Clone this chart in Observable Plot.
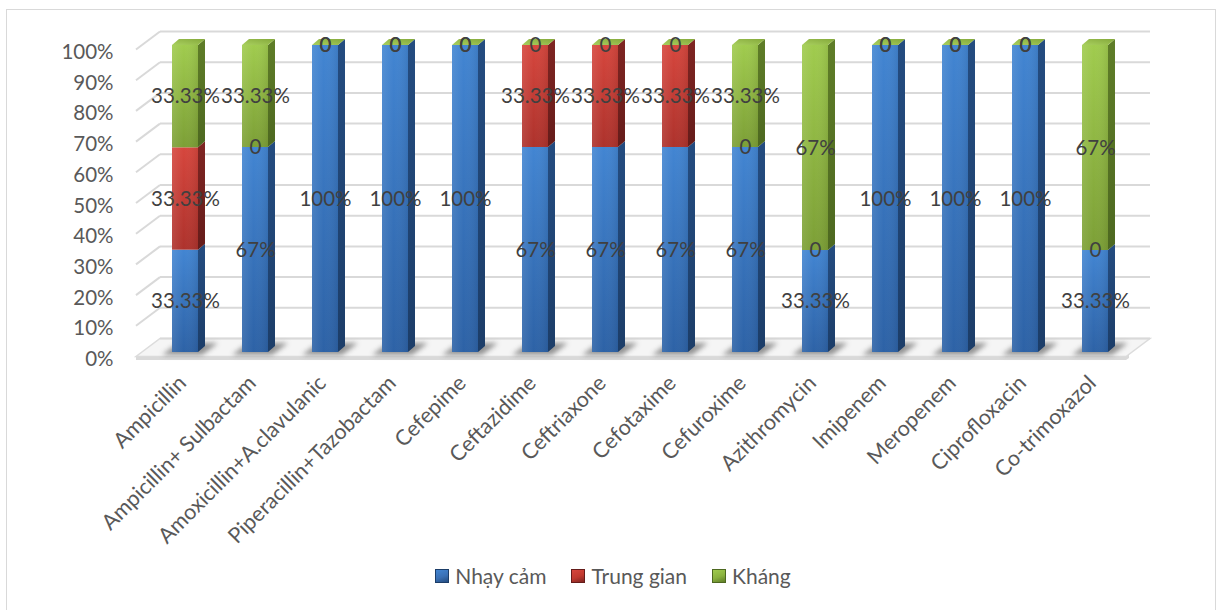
<!DOCTYPE html>
<html>
<head>
<meta charset="utf-8">
<script src="https://cdn.jsdelivr.net/npm/d3@7"></script>
<script src="https://cdn.jsdelivr.net/npm/@observablehq/plot@0.6"></script>
<style>
  html, body { margin: 0; padding: 0; background: #fff; }
  body { width: 1218px; height: 610px; overflow: hidden; position: relative; font-family: Lato, "Open Sans", sans-serif; }
  #frame { position: absolute; left: 6px; top: 9px; width: 1210px; height: 620px; border: 1px solid #d9d9d9; box-sizing: border-box; }
  #chart { position: absolute; left: 0; top: 0; }
  #legend { position: absolute; left: 10px; width: 1206px; top: 563px; display: flex; justify-content: center; gap: 25px; font-size: 21px; color: #595959; }
  .item { display: flex; align-items: center; gap: 6px; line-height: 26px; }
  .sw { width: 14px; height: 14px; box-sizing: border-box; }
</style>
</head>
<body>
<div id="frame"></div>
<div id="chart"></div>
<div id="legend"></div>
<script>
// Antibiotic susceptibility, share of isolates per drug
const drugs = [
  "Ampicillin", "Ampicillin+ Sulbactam", "Amoxicillin+A.clavulanic", "Piperacillin+Tazobactam",
  "Cefepime", "Ceftazidime", "Ceftriaxone", "Cefotaxime", "Cefuroxime", "Azithromycin",
  "Imipenem", "Meropenem", "Ciprofloxacin", "Co-trimoxazol"
];
const seriesNames = ["Nhạy cảm", "Trung gian", "Kháng"];
const nhayCam   = [33.33, 67, 100, 100, 100, 67, 67, 67, 67, 33.33, 100, 100, 100, 33.33];
const trungGian = [33.33, 0, 0, 0, 0, 33.33, 33.33, 33.33, 0, 0, 0, 0, 0, 0];
const khang     = [33.33, 33.33, 0, 0, 0, 0, 0, 0, 33.33, 67, 0, 0, 0, 67];
const yTicks = [0, 0.1, 0.2, 0.3, 0.4, 0.5, 0.6, 0.7, 0.8, 0.9, 1];

const seriesValues = [nhayCam, trungGian, khang];
const rows = drugs.flatMap((drug, i) =>
  seriesNames.map((series, j) => ({drug, series, value: seriesValues[j][i]}))
);
const fmtLabel = v => v === 0 ? "0" : `${v}%`;

// palette: front face (top/bottom of gradient), side face, legend
const palette = {
  "Nhạy cảm":   {top: "#4285d2", bottom: "#2d62a6", side: "#244c80", sideDark: "#1c3d68", key: "#3a70b5"},
  "Trung gian": {top: "#d6463d", bottom: "#ad322c", side: "#7f2522", sideDark: "#651c1a", key: "#c0392f"},
  "Kháng":      {top: "#a0cb4e", bottom: "#7c9f36", side: "#5f7d28", sideDark: "#4d6820", key: "#8ab23e"}
};
const gradId = s => "g" + seriesNames.indexOf(s);

// normalized stack, reused by the 3-D faces drawn next to the bars
const stacks = drugs.map((drug, i) => {
  const total = d3.sum(seriesValues, a => a[i]);
  let acc = 0;
  return seriesValues.map((a, j) => {
    const lo = acc / total; acc += a[i];
    return {drug, series: seriesNames[j], lo, hi: acc / total};
  });
});

const svgNS = "http://www.w3.org/2000/svg";
function el(name, attrs) {
  const e = document.createElementNS(svgNS, name);
  for (const k in attrs) e.setAttribute(k, attrs[k]);
  return e;
}
function bandwidthOf(x) {
  if (typeof x.bandwidth === "function") return x.bandwidth();
  if (typeof x.bandwidth === "number") return x.bandwidth;
  return (x(drugs[1]) - x(drugs[0])) * 0.37;
}
const pts = a => a.map(p => p.join(",")).join(" ");

// depth of the 3-D box: front edge and back wall offsets from the bar plane
const FRONT = [-9, 4.5], BACK = [15, -13.5], SIDE = [7, -6];

// gradients, floor, walls and floor shadows
function backdrop(index, scales, values, dims) {
  const g = el("g", {});
  const defs = el("defs", {});
  for (const s of seriesNames) {
    const p = palette[s];
    const lg = el("linearGradient", {id: gradId(s), x1: 0, y1: 0, x2: 0, y2: 1});
    lg.append(el("stop", {offset: "0", "stop-color": p.top}));
    lg.append(el("stop", {offset: "1", "stop-color": p.bottom}));
    defs.append(lg);
    const lh = el("linearGradient", {id: gradId(s) + "h", x1: 0, y1: 0, x2: 1, y2: 0});
    lh.append(el("stop", {offset: "0", "stop-color": "#fff", "stop-opacity": 0.10}));
    lh.append(el("stop", {offset: "0.45", "stop-color": "#fff", "stop-opacity": 0.0}));
    lh.append(el("stop", {offset: "1", "stop-color": "#000", "stop-opacity": 0.08}));
    defs.append(lh);
    const ls = el("linearGradient", {id: gradId(s) + "s", x1: 0, y1: 0, x2: 0, y2: 1});
    ls.append(el("stop", {offset: "0", "stop-color": p.side}));
    ls.append(el("stop", {offset: "1", "stop-color": p.sideDark}));
    defs.append(ls);
  }
  const tg = el("linearGradient", {id: "gtop", x1: 0, y1: 1, x2: 1, y2: 0});
  tg.append(el("stop", {offset: "0", "stop-color": "#a9d05f"}));
  tg.append(el("stop", {offset: "1", "stop-color": "#84a83a"}));
  defs.append(tg);
  const blur = el("filter", {id: "shadowBlur", x: "-50%", y: "-50%", width: "200%", height: "200%"});
  blur.append(el("feGaussianBlur", {stdDeviation: 2.5}));
  defs.append(blur);
  g.append(defs);

  const {x, y} = scales;
  const x1 = dims.marginLeft, x2 = dims.width - dims.marginRight, y0 = y(0);
  // floor slab
  g.append(el("polygon", {
    points: pts([[x1 + FRONT[0], y0 + FRONT[1]], [x2 + FRONT[0], y0 + FRONT[1]], [x2 + BACK[0], y0 + BACK[1]], [x1 + BACK[0], y0 + BACK[1]]]),
    fill: "#f5f5f5", stroke: "#dcdcdc", "stroke-width": 1.5
  }));
  g.append(el("polygon", {
    points: pts([[x1 + FRONT[0], y0 + FRONT[1]], [x2 + FRONT[0], y0 + FRONT[1]], [x2 + FRONT[0] + 3, y0 + FRONT[1] - 2], [x2 + FRONT[0] + 3, y0 + FRONT[1] + 1.5], [x2 + FRONT[0], y0 + FRONT[1] + 3.5], [x1 + FRONT[0], y0 + FRONT[1] + 3.5]]),
    fill: "#d9d9d9"
  }));
  // side wall diagonals and back wall gridlines
  for (const t of yTicks) {
    const yt = y(t);
    if (t > 0) g.append(el("line", {x1: x1 + FRONT[0], y1: yt + FRONT[1], x2: x1 + BACK[0], y2: yt + BACK[1], stroke: "#d9d9d9", "stroke-width": 2}));
    g.append(el("line", {x1: x1 + BACK[0], y1: yt + BACK[1], x2: x2 + BACK[0], y2: yt + BACK[1], stroke: "#d9d9d9", "stroke-width": 2}));
  }
  // soft shadows under each column
  const bw = bandwidthOf(x);
  for (const d of drugs) {
    const bx = x(d);
    g.append(el("polygon", {
      points: pts([[bx - 10, y0 + 3], [bx + bw + 4, y0 + 3], [bx + bw + 20, y0 - 9], [bx + 6, y0 - 9]]),
      fill: "#6a6a6a", opacity: 0.7, filter: "url(#shadowBlur)"
    }));
  }
  return g;
}

// right-hand side faces and the top face of every column
function faces(index, scales, values, dims) {
  const g = el("g", {});
  const {x, y} = scales;
  const bw = bandwidthOf(x);
  for (const stack of stacks) {
    const bx1 = x(stack[0].drug), bx2 = bx1 + bw;
    for (const seg of stack) {
      if (seg.hi - seg.lo <= 0) continue;
      const yt = y(seg.hi), yb = y(seg.lo);
      g.append(el("polygon", {
        points: pts([[bx2, yt], [bx2 + SIDE[0], yt + SIDE[1]], [bx2 + SIDE[0], yb + SIDE[1]], [bx2, yb]]),
        fill: `url(#${gradId(seg.series)}s)`
      }));
    }
    const ytop = y(1);
    g.append(el("polygon", {
      points: pts([[bx1, ytop], [bx2, ytop], [bx2 + SIDE[0], ytop + SIDE[1]], [bx1 + SIDE[0], ytop + SIDE[1]]]),
      fill: "url(#gtop)"
    }));
  }
  return g;
}

const stackOpts = {x: "drug", y: "value", z: "series", order: seriesNames, offset: "normalize"};
const FONT = 20.5;

const chart = Plot.plot({
  width: 1218,
  height: 545,
  marginLeft: 145,
  marginRight: 83,
  marginTop: 45,
  marginBottom: 193,
  style: {fontFamily: "Lato, 'Open Sans', sans-serif", fontSize: `${FONT}px`, background: "transparent", overflow: "visible"},
  x: {domain: drugs, paddingInner: 0.63, paddingOuter: 0.315, align: 0.5, axis: null},
  y: {domain: [0, 1], axis: null},
  color: {type: "identity"},
  marks: [
    backdrop,
    faces,
    Plot.barY(rows, Plot.stackY({...stackOpts, fill: d => `url(#${gradId(d.series)})`})),
    Plot.barY(rows, Plot.stackY({...stackOpts, fill: d => `url(#${gradId(d.series)}h)`})),
    Plot.text(rows, Plot.stackY({...stackOpts, text: d => fmtLabel(d.value), fill: "#404040", fontSize: FONT})),
    Plot.axisY(yTicks, {tickSize: 0, tickPadding: 32, dy: 7, tickFormat: d3.format(".0%"), fill: "#595959", fontSize: FONT, label: null}),
    // category names, rotated under the floor
    Plot.text(drugs, {
      x: d => d, frameAnchor: "bottom", rotate: -45, textAnchor: "end", lineAnchor: "middle",
      dx: -3, dy: 27, fill: "#595959", fontSize: 21.5
    })
  ]
});
document.getElementById("chart").append(chart);

// legend below the chart
const legend = document.getElementById("legend");
for (const s of seriesNames) {
  const p = palette[s];
  const item = document.createElement("div");
  item.className = "item";
  const sw = document.createElement("span");
  sw.className = "sw";
  sw.style.background = `linear-gradient(160deg, ${p.top}, ${p.key} 55%, ${p.side})`;
  sw.style.border = `1px solid ${p.sideDark}`;
  const label = document.createElement("span");
  label.textContent = s;
  item.append(sw, label);
  legend.append(item);
}
</script>
</body>
</html>
